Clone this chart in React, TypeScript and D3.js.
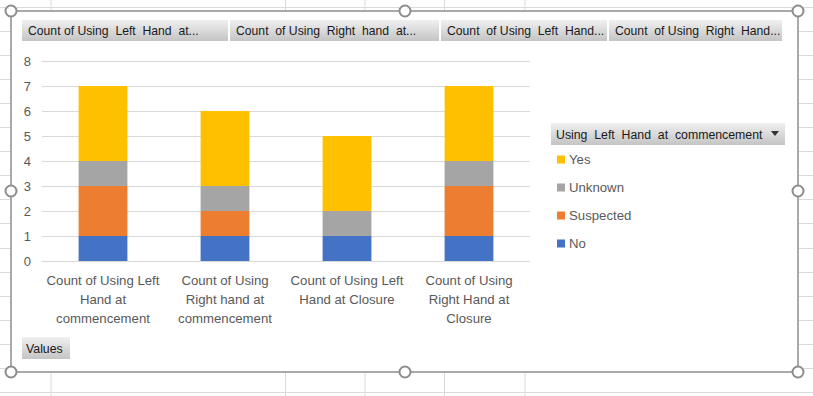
import React from 'react';
import * as d3 from 'd3';

// pivot chart data
const categories = [
  'Count of Using Left Hand at commencement',
  'Count of Using Right hand at commencement',
  'Count of Using Left Hand at Closure',
  'Count of Using Right Hand at Closure',
];
const categoryLines = [
  ['Count of Using Left', 'Hand at', 'commencement'],
  ['Count of Using', 'Right hand at', 'commencement'],
  ['Count of Using Left', 'Hand at Closure'],
  ['Count of Using', 'Right Hand at', 'Closure'],
];
const seriesNames = ['No', 'Suspected', 'Unknown', 'Yes'];
const noValues = [1, 1, 1, 1];
const suspectedValues = [2, 1, 0, 2];
const unknownValues = [1, 1, 1, 1];
const yesValues = [3, 3, 3, 3];
const seriesColors = ['#4472C4', '#ED7D31', '#A5A5A5', '#FFC000'];
const yTicks = [0, 1, 2, 3, 4, 5, 6, 7, 8];
const headerButtons = [
  'Count of Using  Left  Hand  at...',
  'Count  of Using  Right  hand  at...',
  'Count  of Using  Left  Hand...',
  'Count  of Using  Right  Hand...',
];
const legendTitle = 'Using  Left  Hand  at  commencement';

const W = 813;
const H = 396;
const font = '"Liberation Sans", Arial, sans-serif';

export default function App() {
  // dimensions
  const plot = { left: 42, right: 530, top: 61, bottom: 261 };

  const rows = categories.map((c, i) => ({
    cat: c,
    No: noValues[i],
    Suspected: suspectedValues[i],
    Unknown: unknownValues[i],
    Yes: yesValues[i],
  }));
  const stacked = d3.stack<any>().keys(seriesNames)(rows);

  // scales
  const x = d3.scaleBand().domain(categories).range([plot.left, plot.right]).paddingInner(0.6).paddingOuter(0.3);
  const y = d3.scaleLinear().domain([0, 8]).range([plot.bottom, plot.top]);
  const color = d3.scaleOrdinal<string>().domain(seriesNames).range(seriesColors);

  // worksheet cell grid behind the chart
  const colLines = [51, 285.5, 365, 444.5, 525];
  const rowLines = d3.range(6.5, H, 24.1);

  const handles = [
    [11, 11], [405, 11], [798, 11],
    [11, 191], [798, 191],
    [11, 372], [405, 372], [798, 372],
  ];
  const btnX = [22, 230, 441, 609];
  const btnW = [206, 209, 166, 173];

  const legendItems = seriesNames.slice().reverse();

  return (
    <svg width={W} height={H} style={{ position: 'absolute', left: 0, top: 0, display: 'block' }} fontFamily={font}>
      <defs>
        <linearGradient id="btn" x1="0" y1="0" x2="0" y2="1">
          <stop offset="0" stopColor="#f0f0f0" />
          <stop offset="1" stopColor="#c4c4c4" />
        </linearGradient>
      </defs>
      <rect width={W} height={H} fill="#ffffff" />
      {colLines.map((cx, i) => (
        <line key={'c' + i} x1={cx} x2={cx} y1={0} y2={H} stroke="#dadada" />
      ))}
      {rowLines.map((ry, i) => (
        <line key={'r' + i} x1={0} x2={W} y1={Math.round(ry) + 0.5} y2={Math.round(ry) + 0.5} stroke="#dadada" />
      ))}

      {/* chart area */}
      <rect x={11} y={11} width={787} height={361} fill="#ffffff" stroke="#a0a0a0" strokeWidth={1.8} />

      {/* header field buttons */}
      {headerButtons.map((t, i) => (
        <g key={'b' + i}>
          <rect x={btnX[i]} y={20} width={btnW[i]} height={21} fill="url(#btn)" />
          <text x={btnX[i] + 6} y={35} fontSize={12.2} fill="#1a1a1a" style={{ whiteSpace: 'pre' }}>{t}</text>
        </g>
      ))}

      {/* gridlines */}
      {yTicks.map(t => (
        <line key={'g' + t} x1={plot.left} x2={plot.right} y1={y(t) + 0.5} y2={y(t) + 0.5} stroke="#d9d9d9" />
      ))}
      {yTicks.map(t => (
        <text key={'t' + t} x={31} y={y(t) + 4.5} textAnchor="end" fontSize={13} fill="#595959">{t}</text>
      ))}

      {/* stacked bars */}
      {stacked.map(s => (
        <g key={s.key} fill={color(s.key)}>
          {s.map((d, i) => (
            <rect key={i} x={x(d.data.cat)} y={y(d[1])} width={x.bandwidth()} height={y(d[0]) - y(d[1])} />
          ))}
        </g>
      ))}

      {/* category labels */}
      {categories.map((c, i) => (
        <text key={'x' + i} x={(x(c) as number) + x.bandwidth() / 2} textAnchor="middle" fontSize={13.2} fill="#595959">
          {categoryLines[i].map((l, j) => (
            <tspan key={j} x={(x(c) as number) + x.bandwidth() / 2} y={285 + j * 19}>{l}</tspan>
          ))}
        </text>
      ))}

      {/* legend */}
      <rect x={551} y={123} width={234} height={22} fill="url(#btn)" />
      <text x={556} y={138.5} fontSize={12.3} fill="#1a1a1a" style={{ whiteSpace: 'pre' }}>{legendTitle}</text>
      <path d="M771,131 L779,131 L775,136 Z" fill="#333333" />
      {legendItems.map((k, i) => (
        <g key={'l' + k} transform={`translate(557,${159.5 + i * 28})`}>
          <rect x={0} y={-4} width={8} height={8} fill={color(k)} />
          <text x={12} y={4.5} fontSize={13.2} fill="#595959">{k}</text>
        </g>
      ))}

      {/* values button */}
      <rect x={22} y={337} width={48} height={22} fill="url(#btn)" />
      <text x={26} y={352.5} fontSize={12.3} fill="#1a1a1a">Values</text>

      {/* selection handles */}
      {handles.map(([hx, hy], i) => (
        <circle key={'h' + i} cx={hx} cy={hy} r={5.5} fill="#ffffff" stroke="#8c8c8c" strokeWidth={2} />
      ))}
    </svg>
  );
}
